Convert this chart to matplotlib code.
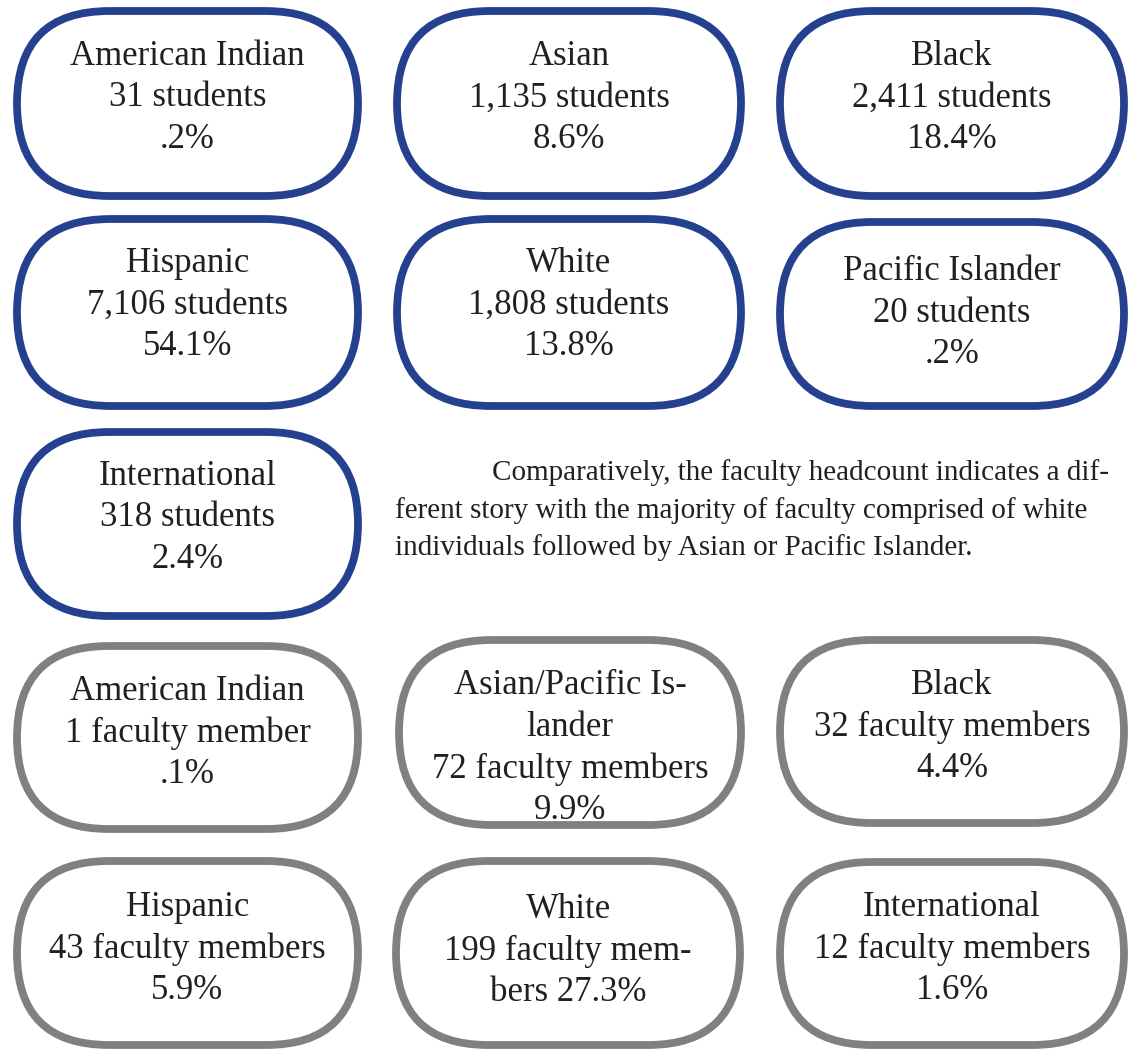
import matplotlib.pyplot as plt
from matplotlib.patches import FancyBboxPatch

# student headcount
student_groups = ["American Indian", "Asian", "Black", "Hispanic", "White",
                  "Pacific Islander", "International"]
student_counts = ["31", "1,135", "2,411", "7,106", "1,808", "20", "318"]
student_pcts = [".2%", "8.6%", "18.4%", "54.1%", "13.8%", ".2%", "2.4%"]

# faculty headcount
faculty_groups = ["American Indian", "Asian/Pacific Islander", "Black", "Hispanic",
                  "White", "International"]
faculty_counts = ["1", "72", "32", "43", "199", "12"]
faculty_pcts = [".1%", "9.9%", "4.4%", "5.9%", "27.3%", "1.6%"]

paragraph = ("Comparatively, the faculty headcount indicates a dif-\n"
             "ferent story with the majority of faculty comprised of white\n"
             "individuals followed by Asian or Pacific Islander.")

BLUE = "#25408f"
GRAY = "#808084"
FONT = "Liberation Serif"
INK = "#231f20"

# box geometry in pixels: left, top, width, height, text centre y
student_boxes = [(17, 11, 341, 185, 94), (397, 11, 344, 185, 94), (780, 11, 344, 185, 94),
                 (17, 219, 341, 187, 301), (397, 219, 344, 187, 301), (780, 222, 344, 184, 309),
                 (17, 432, 341, 184, 514)]
faculty_boxes = [(17, 646, 341, 183, 729), (399, 640, 342, 185, 744), (780, 640, 344, 183, 723),
                 (17, 861, 341, 184, 945), (396, 861, 344, 184, 947), (780, 862, 344, 183, 945)]


def box_lines(group, count, pct, unit):
    if group == "Asian/Pacific Islander":
        return ["Asian/Pacific Is-", "lander", "%s %s" % (count, unit), pct]
    if group == "White" and unit == "faculty members":
        return [group, "%s faculty mem-" % count, "bers %s" % pct]
    return [group, "%s %s" % (count, unit), pct]


fig = plt.figure(figsize=(11.37, 10.51), dpi=100)
ax = fig.add_axes([0, 0, 1, 1])
ax.set_xlim(0, 1137)
ax.set_ylim(1051, 0)
ax.axis("off")

step = 41.5


def draw(boxes, groups, counts, pcts, color, unit_one, unit_many):
    for (x, y, w, h, ty), g, c, p in zip(boxes, groups, counts, pcts):
        patch = FancyBboxPatch((x, y), w, h, boxstyle="round,pad=0,rounding_size=%s" % (h / 2),
                               fc="white", ec=color, lw=5.6)
        ax.add_patch(patch)
        unit = unit_one if c == "1" else unit_many
        lines = box_lines(g, c, p, unit)
        y0 = ty - step * (len(lines) - 1) / 2
        for i, line in enumerate(lines):
            ax.text(x + w / 2, y0 + i * step, line, ha="center", va="center_baseline",
                    fontsize=25, family=FONT, color=INK)


draw(student_boxes, student_groups, student_counts, student_pcts, BLUE, "student", "students")
draw(faculty_boxes, faculty_groups, faculty_counts, faculty_pcts, GRAY, "faculty member", "faculty members")

lines = paragraph.split("\n")
ax.text(492, 470, lines[0], ha="left", va="center_baseline", fontsize=21, family=FONT, color=INK)
ax.text(395, 508, lines[1], ha="left", va="center_baseline", fontsize=21, family=FONT, color=INK)
ax.text(395, 545, lines[2], ha="left", va="center_baseline", fontsize=21, family=FONT, color=INK)

fig.savefig("out.png", dpi=100)
